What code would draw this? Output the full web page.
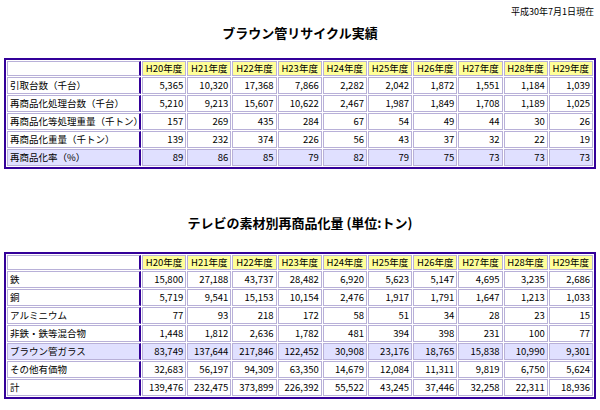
<!DOCTYPE html>
<html><head><meta charset="utf-8">
<script src="https://cdn.jsdelivr.net/npm/chart.js@4"></script>
<style>
body{margin:0;width:600px;height:410px;background:#fff;font-family:"Noto Sans CJK JP",sans-serif;position:relative;overflow:hidden}
.date{position:absolute;right:6px;top:5px;font-size:9px}
.title{position:absolute;left:0;width:600px;text-align:center;font-size:13px;font-weight:bold}
table{position:absolute;left:4px;width:592px;border:2px solid #330099;border-collapse:separate;border-spacing:1px;font-size:9.5px;table-layout:fixed}
td{border:1px solid #b8b0d8;padding:0 2px;height:13px;line-height:13px;text-align:right;white-space:nowrap}
td:first-child{text-align:left;border-right:2px solid #330099;width:127px}
tr.hd td{background:#ffff99;text-align:center}
tr.hd td:first-child{background:#fff}
tr.hl td{background:#e0e0ff}
</style></head><body>
<div class="date">平成30年7月1日現在</div>
<div class="title" style="top:23px">ブラウン管リサイクル実績</div>
<table id="t1" style="top:58px"></table>
<div class="title" style="top:213px">テレビの素材別再商品化量 (単位:トン)</div>
<table id="t2" style="top:252px"></table>
<script>
const years = ['H20年度','H21年度','H22年度','H23年度','H24年度','H25年度','H26年度','H27年度','H28年度','H29年度'];

const labels1 = ['引取台数（千台）','再商品化処理台数（千台）','再商品化等処理重量（千トン）','再商品化重量（千トン）','再商品化率（%）'];
const hikitori = [5365,10320,17368,7866,2282,2042,1872,1551,1184,1039];
const shoriDaisu = [5210,9213,15607,10622,2467,1987,1849,1708,1189,1025];
const shoriJuryo = [157,269,435,284,67,54,49,44,30,26];
const saiJuryo = [139,232,374,226,56,43,37,32,22,19];
const saiRitsu = [89,86,85,79,82,79,75,73,73,73];

const labels2 = ['鉄','銅','アルミニウム','非鉄・鉄等混合物','ブラウン管ガラス','その他有価物','計'];
const tetsu = [15800,27188,43737,28482,6920,5623,5147,4695,3235,2686];
const dou = [5719,9541,15153,10154,2476,1917,1791,1647,1213,1033];
const alumi = [77,93,218,172,58,51,34,28,23,15];
const kongou = [1448,1812,2636,1782,481,394,398,231,100,77];
const glass = [83749,137644,217846,122452,30908,23176,18765,15838,10990,9301];
const sonota = [32683,56197,94309,63350,14679,12084,11311,9819,6750,5624];
const total = [139476,232475,373899,226392,55522,43245,37446,32258,22311,18936];

function buildTable(id, labels, rows, hlIndex, rowH) {
    const t = document.getElementById(id);
    let html = '<tr class="hd"><td></td>' + years.map(y => `<td>${y}</td>`).join('') + '</tr>';
    rows.forEach((r, i) => {
        html += `<tr${i === hlIndex ? ' class="hl"' : ''} style="height:${rowH}px"><td>${labels[i]}</td>` +
            r.map(v => `<td>${v.toLocaleString('en-US')}</td>`).join('') + '</tr>';
    });
    t.innerHTML = html;
}
buildTable('t1', labels1, [hikitori, shoriDaisu, shoriJuryo, saiJuryo, saiRitsu], 4, 17);
buildTable('t2', labels2, [tetsu, dou, alumi, kongou, glass, sonota, total], 4, 17);
</script>
</body></html>
